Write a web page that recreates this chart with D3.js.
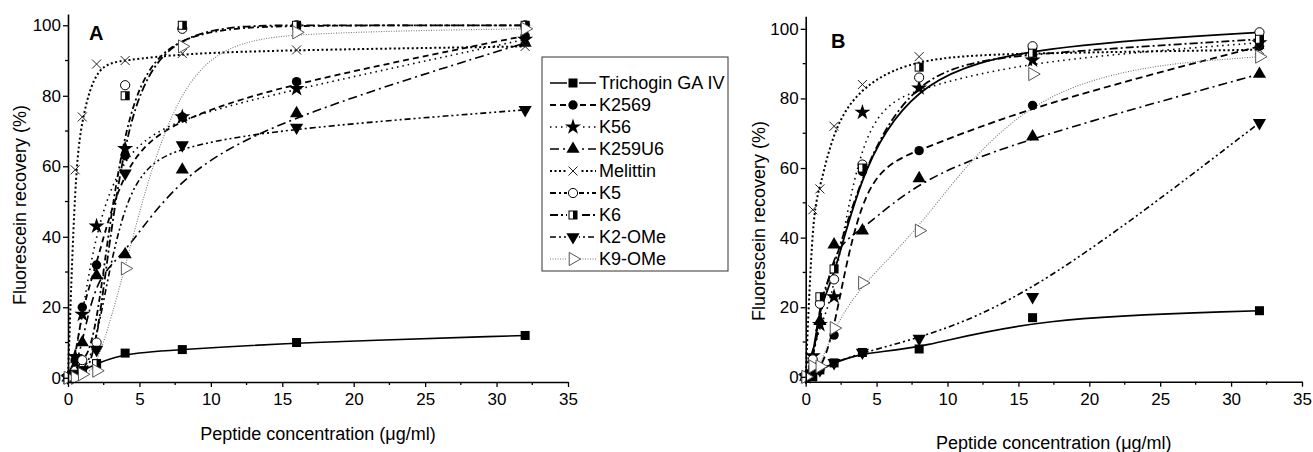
<!DOCTYPE html>
<html>
<head>
<meta charset="utf-8">
<script src="https://cdn.jsdelivr.net/npm/d3@7"></script>
<style>
  body { margin: 0; background: #fff; }
  text { font-family: "Liberation Sans", Arial, sans-serif; fill: #000; }
</style>
</head>
<body>
<div class="container"></div>
<script>
// peptide concentrations (ug/ml)
const conc = [0, 0.5, 1, 2, 4, 8, 16, 32];
const seriesNames = ["Trichogin GA IV", "K2569", "K56", "K259U6", "Melittin", "K5", "K6", "K2-OMe", "K9-OMe"];

// panel A, fluorescein recovery (%)
const trichoginA = [0, 1, 2, 4, 7, 8, 10, 12];
const k2569A     = [0, 5, 20, 32, 63, 74, 84, 97];
const k56A       = [0, 6, 18, 43, 65, 74, 82, 96];
const k259u6A    = [0, 3, 10, 29, 35, 59, 75, 95];
const melittinA  = [0, 59, 74, 89, 90, 92, 93, 94];
const k5A        = [0, 2, 5, 10, 83, 99, 100, 100];
const k6A        = [0, 1, 2, 4, 80, 100, 100, 100];
const k2omeA     = [0, 1, 2, 8, 58, 66, 71, 76];
const k9omeA     = [0, 0, 1, 2, 31, 94, 98, 99];

// panel B
const trichoginB = [0, 0, 2, 4, 7, 8, 17, 19];
const k2569B     = [0, 1, 2, 12, 59, 65, 78, 95];
const k56B       = [0, 6, 15, 23, 76, 83, 91, 96];
const k259u6B    = [0, 5, 16, 38, 42, 57, 69, 87];
const melittinB  = [0, 48, 54, 72, 84, 92, 93, 94];
const k5B        = [0, 5, 21, 28, 61, 86, 95, 99];
const k6B        = [0, 2, 23, 31, 60, 89, 93, 97];
const k2omeB     = [0, 1, 2, 4, 7, 11, 23, 73];
const k9omeB     = [0, 3, 3, 14, 27, 42, 87, 92];

const xTicks = [0, 5, 10, 15, 20, 25, 30, 35];
const xMinor = [2.5, 7.5, 12.5, 17.5, 22.5, 27.5, 32.5];
const yTicks = [0, 20, 40, 60, 80, 100];
const yMinor = [10, 30, 50, 70, 90];

// look of each series
const markerTypes = ["square", "dot", "star", "triUp", "cross", "ring", "halfSquare", "triDown", "triRight"];
const dashA = ["", "6,4", "1.5,4", "9,4,2,4", "2,2.5", "6,3,2,3", "8,3,2,3", "6,3,2,3,2,3", "1,1.5"];
const dashB = ["", "7,4", "1.5,4", "9,4,2,4", "2,2.5", "", "8,3,2,3", "6,3,2,3,2,3", "1,1.5"];
const lineColors = ["#000", "#000", "#000", "#000", "#000", "#000", "#000", "#000", "#777"];
const lineWidths = [1.6, 1.8, 1.6, 1.6, 2, 1.8, 1.8, 1.6, 1.1];

const svg = d3.select(".container").append("svg")
  .attr("width", 1313)
  .attr("height", 452);

const panels = [
  { label: "A", xr: [68, 568], yr: [382, 14], yDom: [-1.2, 103.2],
    data: [trichoginA, k2569A, k56A, k259u6A, melittinA, k5A, k6A, k2omeA, k9omeA], dash: dashA,
    xTitleY: 434, yTitle: [20, 205], labelAt: [89, 40] },
  { label: "B", xr: [805.7, 1302], yr: [381.7, 16.3], yDom: [-1.4, 103.6],
    data: [trichoginB, k2569B, k56B, k259u6B, melittinB, k5B, k6B, k2omeB, k9omeB], dash: dashB,
    xTitleY: 443, yTitle: [759, 221], labelAt: [831, 48] }
];

function drawMarker(g, type) {
  const sym = d3.symbol();
  if (type == "square") {
    g.append("rect").attr("x", -4.5).attr("y", -4.5).attr("width", 9).attr("height", 9).attr("fill", "#000");
  } else if (type == "dot") {
    g.append("circle").attr("r", 4.7).attr("fill", "#000");
  } else if (type == "star") {
    g.append("path").attr("d", sym.type(d3.symbolStar).size(80)()).attr("fill", "#000");
  } else if (type == "triUp") {
    g.append("path").attr("d", sym.type(d3.symbolTriangle).size(75)()).attr("fill", "#000");
  } else if (type == "triDown") {
    g.append("path").attr("d", sym.type(d3.symbolTriangle).size(75)())
      .attr("transform", "rotate(180)").attr("fill", "#000");
  } else if (type == "triRight") {
    g.append("path").attr("d", sym.type(d3.symbolTriangle).size(75)())
      .attr("transform", "rotate(90)").attr("fill", "#fff").attr("stroke", "#555").attr("stroke-width", 1);
  } else if (type == "cross") {
    g.append("path").attr("d", "M-4.5,-4.5L4.5,4.5M-4.5,4.5L4.5,-4.5")
      .attr("stroke", "#222").attr("stroke-width", 1).attr("fill", "none");
  } else if (type == "ring") {
    g.append("circle").attr("r", 4.6).attr("fill", "#fff").attr("stroke", "#000").attr("stroke-width", 1);
  } else if (type == "halfSquare") {
    g.append("rect").attr("x", -4).attr("y", -4).attr("width", 8).attr("height", 8)
      .attr("fill", "#fff").attr("stroke", "#000").attr("stroke-width", 1);
    g.append("rect").attr("x", 0).attr("y", -4).attr("width", 4).attr("height", 8).attr("fill", "#000");
  }
}

panels.forEach(function (p) {
  const x = d3.scaleLinear().domain([0, 35]).range(p.xr);
  const y = d3.scaleLinear().domain(p.yDom).range(p.yr);
  const g = svg.append("g");

  // smoothed lines, like the fitted curves of the original
  const line = d3.line()
    .x(d => x(d[0]))
    .y(d => y(d[1]))
    .curve(d3.curveBasis);

  p.data.forEach(function (vals, i) {
    g.append("path")
      .datum(conc.map((c, j) => [c, vals[j]]))
      .attr("d", line)
      .attr("fill", "none")
      .attr("stroke", lineColors[i])
      .attr("stroke-width", lineWidths[i])
      .attr("stroke-dasharray", p.dash[i] || null);
  });

  // markers
  p.data.forEach(function (vals, i) {
    conc.forEach(function (c, j) {
      const m = g.append("g").attr("transform", "translate(" + x(c) + "," + y(vals[j]) + ")");
      drawMarker(m, markerTypes[i]);
    });
  });

  // axes
  const xAxis = g.append("g")
    .attr("transform", "translate(0," + p.yr[0] + ")")
    .call(d3.axisBottom(x).tickValues(xTicks).tickSize(5).tickSizeOuter(0).tickPadding(6));
  xAxis.selectAll(".minor").data(xMinor).join("line")
    .attr("x1", d => x(d)).attr("x2", d => x(d)).attr("y1", 0).attr("y2", 3)
    .attr("stroke", "#000").attr("stroke-width", 1.3);

  const yAxis = g.append("g")
    .attr("transform", "translate(" + p.xr[0] + ",0)")
    .call(d3.axisLeft(y).tickValues(yTicks).tickSize(5).tickSizeOuter(0).tickPadding(2));
  yAxis.selectAll(".minor").data(yMinor).join("line")
    .attr("x1", 0).attr("x2", -3).attr("y1", d => y(d)).attr("y2", d => y(d))
    .attr("stroke", "#000").attr("stroke-width", 1.3);

  [xAxis, yAxis].forEach(function (a) {
    a.select(".domain").attr("stroke", "#000").attr("stroke-width", 1.6);
    a.selectAll(".tick line").attr("stroke", "#000").attr("stroke-width", 1.3);
    a.selectAll(".tick text").style("font-family", '"Liberation Sans", Arial, sans-serif')
      .style("font-size", "17px").attr("fill", "#000");
  });

  // titles
  g.append("text")
    .attr("x", (p.xr[0] + p.xr[1]) / 2)
    .attr("y", p.xTitleY)
    .attr("text-anchor", "middle")
    .attr("dominant-baseline", "central")
    .style("font-size", "18px")
    .text("Peptide concentration (\u03bcg/ml)");

  g.append("text")
    .attr("transform", "translate(" + p.yTitle[0] + "," + p.yTitle[1] + ") rotate(-90)")
    .attr("text-anchor", "middle")
    .attr("dominant-baseline", "central")
    .style("font-size", "18px")
    .text("Fluorescein recovery (%)");

  g.append("text")
    .attr("x", p.labelAt[0])
    .attr("y", p.labelAt[1])
    .style("font-size", "20px")
    .style("font-weight", "bold")
    .text(p.label);
});

// legend
const legend = svg.append("g");
legend.append("rect")
  .attr("x", 542).attr("y", 57).attr("width", 186).attr("height", 214)
  .attr("fill", "#fff").attr("stroke", "#333").attr("stroke-width", 1);

seriesNames.forEach(function (name, i) {
  const ly = 83 + i * 22;
  legend.append("line")
    .attr("x1", 550).attr("x2", 596).attr("y1", ly).attr("y2", ly)
    .attr("stroke", lineColors[i])
    .attr("stroke-width", lineWidths[i])
    .attr("stroke-dasharray", dashA[i] || null);
  const m = legend.append("g").attr("transform", "translate(573," + ly + ")");
  m.append("rect").attr("x", -6).attr("y", -6).attr("width", 12).attr("height", 12).attr("fill", "#fff");
  drawMarker(m, markerTypes[i]);
  legend.append("text")
    .attr("x", 599).attr("y", ly)
    .attr("dominant-baseline", "central")
    .style("font-size", "18px")
    .text(name);
});
</script>
</body>
</html>
